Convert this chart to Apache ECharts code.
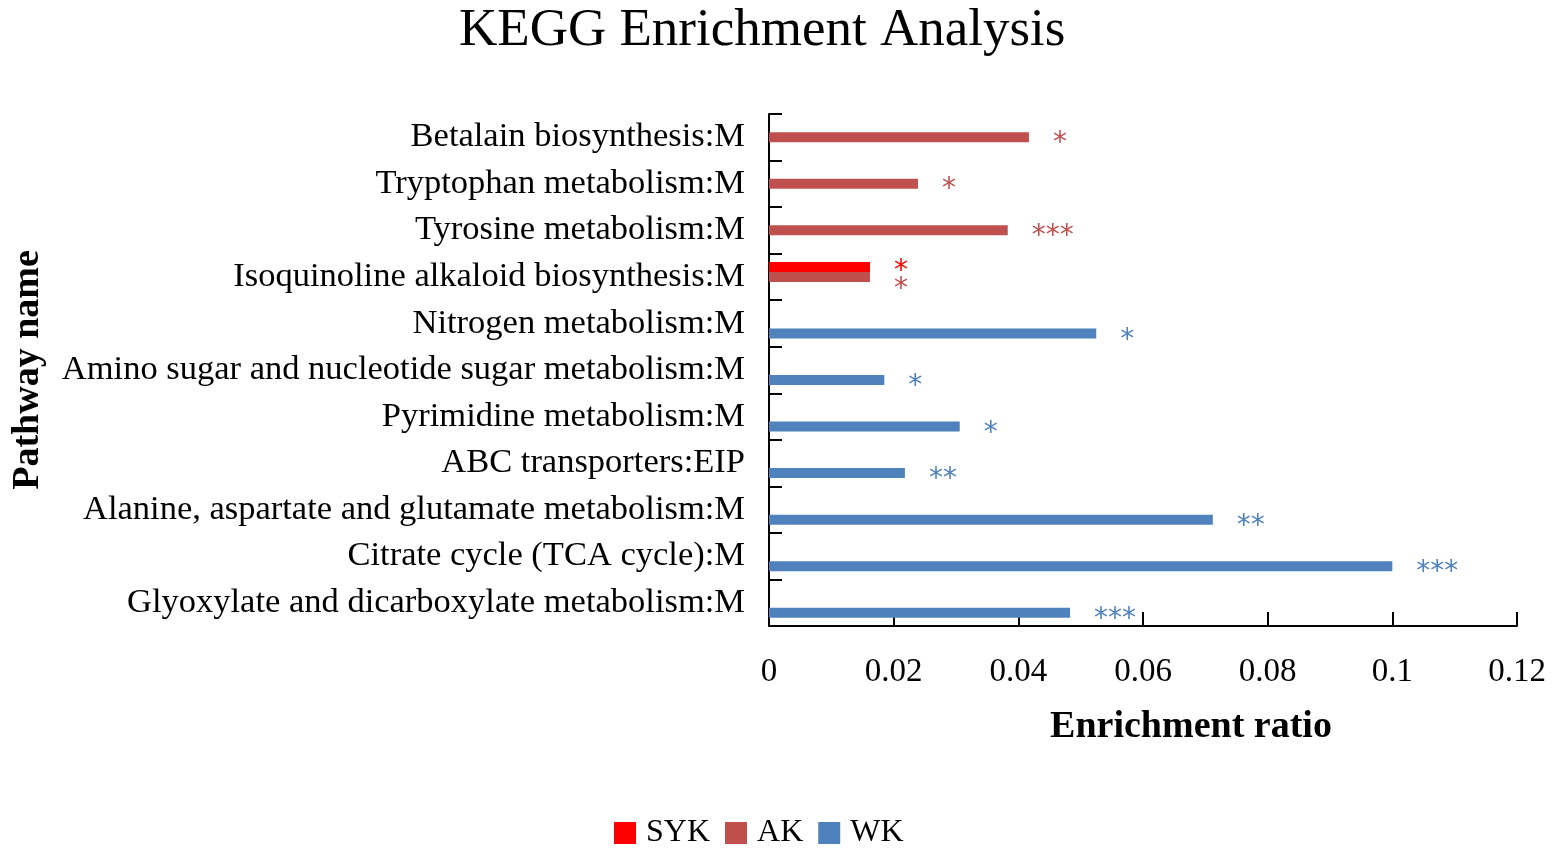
<!DOCTYPE html>
<html>
<head>
    <meta charset="UTF-8"/>
    <title>KEGG Enrichment Analysis</title>
    <style>
        html, body{
            margin: 0;
            background: #fff;
        }
    </style>
    <script src="https://cdn.jsdelivr.net/npm/echarts@6/dist/echarts.min.js"></script>
</head>
<body>
<div id="container" style="width: 1559px;height: 852px;"></div>

<script>
  // pathways, top to bottom
  var pathways = [
      'Betalain biosynthesis:M',
      'Tryptophan metabolism:M',
      'Tyrosine metabolism:M',
      'Isoquinoline alkaloid biosynthesis:M',
      'Nitrogen metabolism:M',
      'Amino sugar and nucleotide sugar metabolism:M',
      'Pyrimidine metabolism:M',
      'ABC transporters:EIP',
      'Alanine, aspartate and glutamate metabolism:M',
      'Citrate cycle (TCA cycle):M',
      'Glyoxylate and dicarboxylate metabolism:M'
  ];
  var sykValues = [null, null, null, 0.0162, null, null, null, null, null, null, null];
  var akValues  = [0.0417, 0.0239, 0.0383, 0.0162, null, null, null, null, null, null, null];
  var wkValues  = [null, null, null, null, 0.0525, 0.0185, 0.0306, 0.0218, 0.0712, 0.1, 0.0483];
  var sykStars = ['', '', '', '*', '', '', '', '', '', '', ''];
  var akStars  = ['*', '*', '***', '*', '', '', '', '', '', '', ''];
  var wkStars  = ['', '', '', '', '*', '*', '*', '**', '**', '***', '***'];

  var serif = '"Liberation Serif", "Times New Roman", serif';

  function starLabel(stars, color, dy) {
      return {
          show: true,
          position: 'right',
          distance: 24,
          offset: [0, dy],
          color: color,
          fontSize: 28,
          fontFamily: '"DejaVu Sans", sans-serif',
          formatter: function (p) { return stars[p.dataIndex]; }
      };
  }

  var myChart = echarts.init(document.getElementById('container'));
  var option = {
      backgroundColor: '#fff',
      animation: false,
      title: {
          text: 'KEGG Enrichment Analysis',
          left: 454,
          top: 0,
          textStyle: { fontFamily: serif, fontSize: 53, fontWeight: 'normal', color: '#000' }
      },
      legend: {
          data: ['SYK', 'AK', 'WK'],
          left: 609,
          top: 812,
          icon: 'rect',
          itemWidth: 22,
          itemHeight: 22,
          itemGap: 15,
          textStyle: { fontFamily: serif, fontSize: 32, color: '#000', padding: [0, 0, 0, 5] }
      },
      grid: { left: 769, right: 42, top: 114, bottom: 226, outerBoundsMode: 'none' },
      xAxis: {
          type: 'value',
          min: 0,
          max: 0.12,
          interval: 0.02,
          name: 'Enrichment ratio',
          nameLocation: 'middle',
          nameGap: 82,
          nameTextStyle: { fontFamily: serif, fontSize: 38, fontWeight: 'bold', color: '#000', padding: [0, 0, 0, 96] },
          axisLine: { show: true, lineStyle: { color: '#000', width: 2 } },
          axisTick: { show: true, inside: true, length: 14, lineStyle: { color: '#000', width: 2 } },
          axisLabel: { margin: 30, fontFamily: serif, fontSize: 33, color: '#000' },
          splitLine: { show: false }
      },
      yAxis: {
          type: 'category',
          inverse: true,
          data: pathways,
          name: 'Pathway name',
          nameLocation: 'middle',
          nameGap: 722,
          nameTextStyle: { fontFamily: serif, fontSize: 38, fontWeight: 'bold', color: '#000' },
          axisLine: { show: true, lineStyle: { color: '#000', width: 2 } },
          axisTick: { show: true, inside: true, length: 13, lineStyle: { color: '#000', width: 2 } },
          axisLabel: { margin: 24, fontFamily: serif, fontSize: 34.5, color: '#000' }
      },
      series: [
          { name: 'SYK', type: 'bar', data: sykValues, barWidth: 10, barGap: '0%',
            itemStyle: { color: '#FF0000' }, label: starLabel(sykStars, '#FF0000', 5) },
          { name: 'AK', type: 'bar', data: akValues, barWidth: 10, barGap: '0%',
            itemStyle: { color: '#C0504D' }, label: starLabel(akStars, '#C0504D', 0),
            // push the AK star further down where it shares a row with an SYK star
            labelLayout: function (p) { return { dy: sykStars[p.dataIndex] ? 13 : 6 }; } },
          { name: 'WK', type: 'bar', data: wkValues, barWidth: 10, barGap: '0%',
            itemStyle: { color: '#4F81BD' }, label: starLabel(wkStars, '#4F81BD', 7) }
      ]
  };
  myChart.setOption(option);
</script>

</body>
</html>
